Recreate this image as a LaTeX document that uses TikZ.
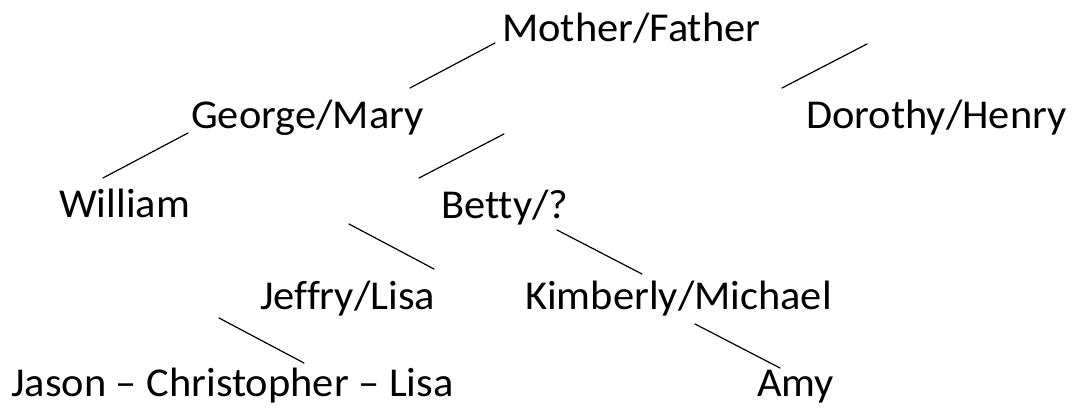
\documentclass[tikz,border=0pt]{standalone}
\usepackage{fontspec}
\setmainfont{Carlito}[Ligatures=NoCommon, FakeStretch=1.035]
\usepackage{tikz}
\usetikzlibrary{positioning}

\begin{document}
\begin{tikzpicture}[
    x=1pt, y=1pt,
    person/.style={
        anchor=base west,
        inner sep=0pt,
        font=\fontsize{41}{48}\selectfont
    },
    link/.style={line width=1.2pt, line cap=round}
]
\useasboundingbox (0,0) rectangle (1082,409);

\node[person] (mother) at (502,367) {Mother/Father};
\node[person] (george) at (191,280) {George/Mary};
\node[person] (dorothy) at (806,280) {Dorothy/Henry};
\node[person] (william) at (59,191) {William};
\node[person] (betty) at (441,190) {Betty/?};
\node[person] (jeffry) at (260,99) {Jeffry/Lisa};
\node[person] (kimberly) at (525,99) {Kimberly/Michael};
\node[person] (jason) at (11,12) {Jason – Christopher – Lisa};
\node[person] (amy) at (757,12) {Amy};

\draw[link] ([shift={(-7,-1)}]mother.base west) -- ([shift={(219,41)}]george.base west);
\draw[link] ([shift={(365,-2)}]mother.base west) -- ([shift={(-24,41)}]dorothy.base west);
\draw[link] ([shift={(-3,-4)}]george.base west) -- ([shift={(44,40)}]william.base west);
\draw[link] ([shift={(313,-5)}]george.base west) -- ([shift={(-22,41)}]betty.base west);
\draw[link] ([shift={(158,-95)}]george.base west) -- ([shift={(174,41)}]jeffry.base west);
\draw[link] ([shift={(116,-11)}]betty.base west) -- ([shift={(117,36)}]kimberly.base west);
\draw[link] ([shift={(-41,-8)}]jeffry.base west) -- ([shift={(293,34)}]jason.base west);
\draw[link] ([shift={(170,-14)}]kimberly.base west) -- ([shift={(23,29)}]amy.base west);

\end{tikzpicture}
\end{document}
